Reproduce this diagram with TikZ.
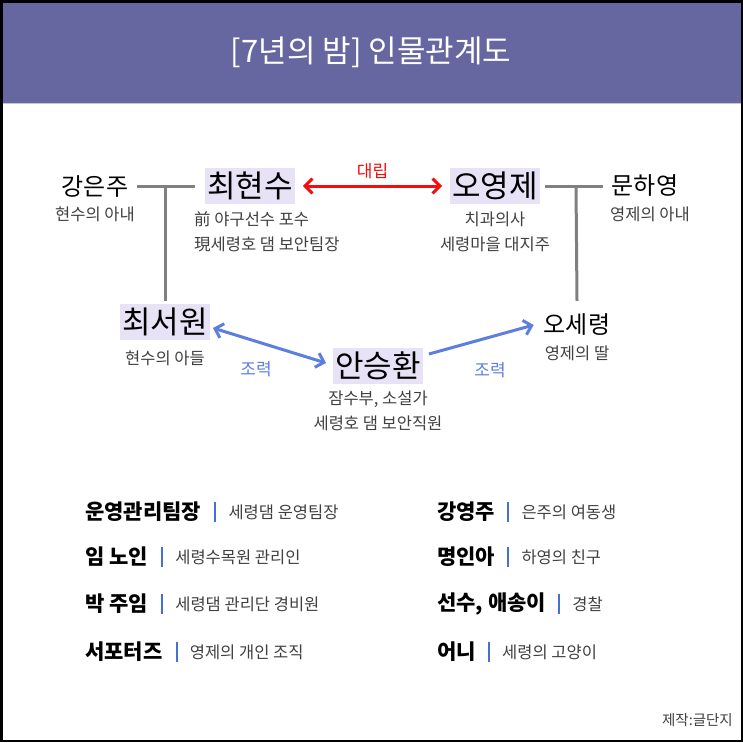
\documentclass[tikz,border=0pt]{standalone}
\usepackage{fontspec}
\setmainfont{Noto Sans CJK KR}
\usetikzlibrary{positioning,arrows.meta}
\definecolor{nightBand}{RGB}{102,102,160}
\definecolor{nightEdge}{RGB}{196,196,228}
\definecolor{nightLav}{RGB}{231,226,246}
\definecolor{nightGray}{RGB}{128,128,128}
\definecolor{nightText}{RGB}{64,64,64}
\definecolor{nightRed}{RGB}{245,12,12}
\definecolor{nightBlue}{RGB}{92,126,222}
\definecolor{nightBar}{RGB}{72,112,212}
\begin{document}
\begin{tikzpicture}[x=1pt,y=-1pt,
  lead/.style={fill=nightLav,inner xsep=2pt,inner ysep=4pt,font=\fontsize{31}{31}\selectfont},
  side/.style={inner sep=1pt,font=\fontsize{24}{24}\selectfont},
  note/.style={inner sep=1pt,align=center,text=nightText,font=\fontsize{16.5}{25}\selectfont},
  kin/.style={nightGray,line width=3pt},
  rel/.style={line width=3pt,{Straight Barb[length=2.6mm,width=5.2mm]}-{Straight Barb[length=2.6mm,width=5.2mm]}},
  tag/.style={inner sep=1pt,font=\fontsize{17}{17}\selectfont},
  who/.style={anchor=west,inner sep=0pt,font=\bfseries\fontsize{21}{21}\selectfont},
  what/.style={anchor=west,inner sep=0pt,text=nightText,font=\fontsize{16.5}{16.5}\selectfont},
  bar/.style={nightBar,line width=2pt}]
\useasboundingbox (0,0) rectangle (743,742);
% header band
\fill[nightBand] (0,0) rectangle (743,103);
\draw[nightEdge,line width=1.5pt] (0,103.5) -- (743,103.5);
\node[text=white,font=\fontsize{31}{31}\selectfont] (title) at (371,52) {[7년의 밤] 인물관계도};

% main characters
\node[lead] (choi) at (250,186) {최현수};
\node[lead] (oh) at (495,186) {오영제};
\node[lead] (seo) at (165,322) {최서원};
\node[lead] (ahn) at (378,366) {안승환};
\node[side] (kang) at (95,186) {강은주};
\node[side] (moon) at (645,186) {문하영};
\node[side] (osr) at (577,325) {오세령};

% notes
\node[note] (kangN) at (95,214) {현수의 아내};
\node[note] (moonN) at (650,214) {영제의 아내};
\node[note,align=left,anchor=west] (choiN) at (193,232) {前 야구선수 포수\\現세령호 댐 보안팀장};
\node[note] (ohN) at (495,232) {치과의사\\세령마을 대지주};
\node[note] (seoN) at (165,358) {현수의 아들};
\node[note] (osrN) at (577,353) {영제의 딸};
\node[note] (ahnN) at (378,411) {잠수부, 소설가\\세령호 댐 보안직원};

% family lines
\coordinate (kinL) at (165,186);
\coordinate (kinR) at (576,186);
\draw[kin] ([xshift=8pt]kang.east) -- ([xshift=-10pt]choi.west);
\draw[kin] (kinL) -- ([yshift=3pt]seo.north);
\draw[kin] ([xshift=5pt]oh.east) -- ([xshift=-8pt]moon.west);
\draw[kin] (kinR) -- ([yshift=12pt]osr.north);

% relations
\draw[rel,nightRed] ([xshift=8pt]choi.east) -- node[tag,above=5pt] (fight) {대립} ([xshift=-8pt]oh.west);
\draw[rel,nightBlue] ([shift={(3pt,-6pt)}]seo.east) -- ([shift={(-7pt,3pt)}]ahn.west);
\draw[line width=3pt,nightBlue,-{Straight Barb[length=2.6mm,width=5.2mm]}] ([shift={(6pt,12pt)}]ahn.east) -- ([xshift=-9pt]osr.west);
\node[tag,text=nightBlue] (helpA) at (256,369) {조력};
\node[tag,text=nightBlue] (helpB) at (490,370) {조력};

% minor characters
\foreach \y/\n/\d [count=\i] in {512/운영관리팀장/세령댐 운영팀장, 557/임 노인/세령수목원 관리인, 604/박 주임/세령댐 관리단 경비원, 652/서포터즈/영제의 개인 조직}{
  \node[who] (wl\i) at (85,\y) {\n};
  \draw[bar] ([shift={(14pt,10pt)}]wl\i.east) -- ([shift={(14pt,-10pt)}]wl\i.east);
  \node[what,right=27pt of wl\i] (dl\i) {\d};
}
\foreach \y/\n/\d [count=\i] in {512/강영주/은주의 여동생, 557/명인아/하영의 친구, 604/{선수, 애송이}/경찰, 652/어니/세령의 고양이}{
  \node[who] (wr\i) at (437,\y) {\n};
  \draw[bar] ([shift={(13pt,10pt)}]wr\i.east) -- ([shift={(13pt,-10pt)}]wr\i.east);
  \node[what,right=26pt of wr\i] (dr\i) {\d};
}

\node[text=nightText,anchor=east,inner sep=0pt,font=\fontsize{14.5}{14.5}\selectfont] (credit) at (733,720) {제작:글단지};
% frame
\draw[black,line width=2.5pt] (1.25,1.25) rectangle (741.75,740.75);
\end{tikzpicture}
\end{document}
